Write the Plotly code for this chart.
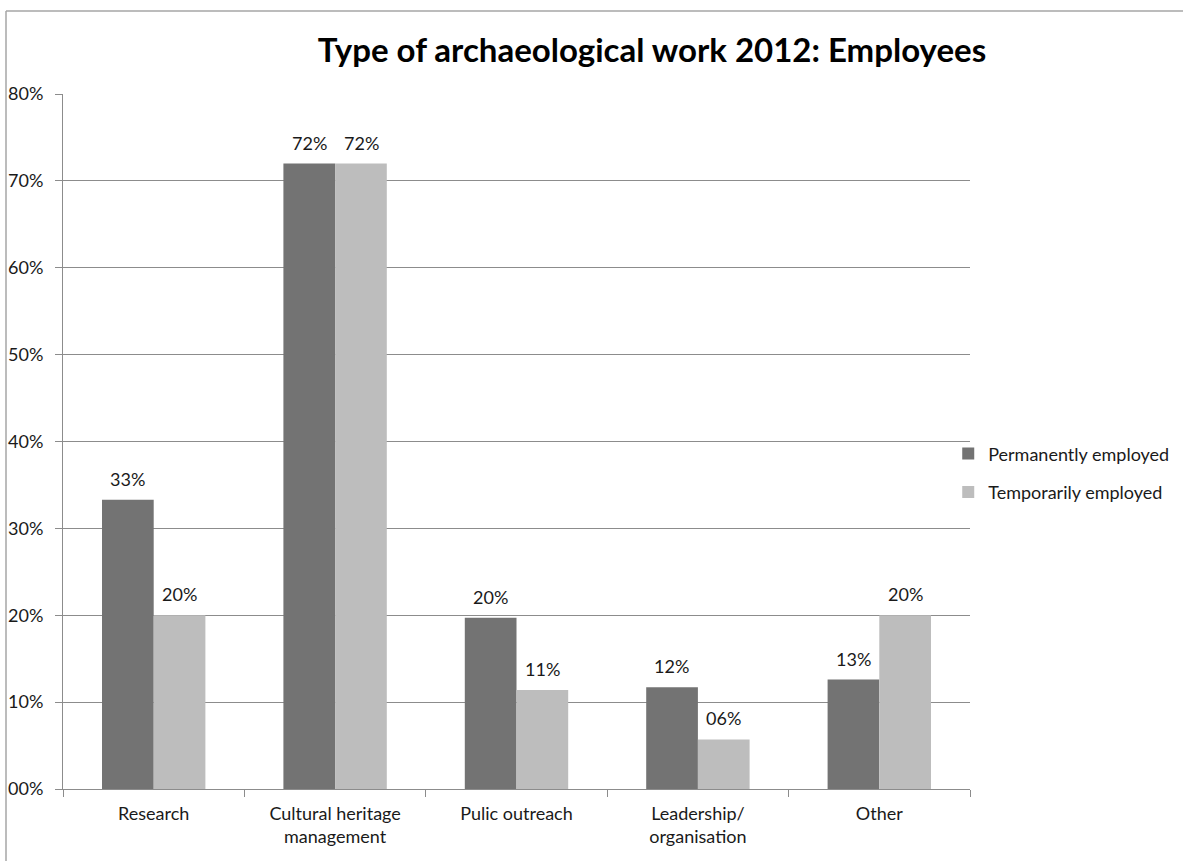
import plotly.graph_objects as go

# Survey results: share of employees doing each type of archaeological work
categories = ["Research", "Cultural heritage<br>management", "Pulic outreach",
              "Leadership/<br>organisation", "Other"]
permanent = [33.3, 72.0, 19.7, 11.7, 12.6]
temporary = [20.0, 72.0, 11.4, 5.7, 20.0]
series_names = ["Permanently employed", "Temporarily employed"]
tick_values = [0, 10, 20, 30, 40, 50, 60, 70, 80]
tick_labels = ["00%", "10%", "20%", "30%", "40%", "50%", "60%", "70%", "80%"]

DARK = "#737373"
LIGHT = "#bdbdbd"
GRID = "#8c8c8c"
FONT = "Lato"
TEXT = "#1a1a1a"

fig = go.Figure()
for name, vals, col, grp in [(series_names[0], permanent, DARK, "a"),
                             (series_names[1], temporary, LIGHT, "b")]:
    fig.add_trace(go.Bar(
        x=categories, y=vals, name=name, legendgroup=grp,
        marker=dict(color=col, line=dict(width=0)),
    ))

# Value labels above each bar
for vals, shift in [(permanent, -26), (temporary, 26)]:
    for cat, v in zip(categories, vals):
        fig.add_annotation(x=cat, y=v, text=f"{v:02.0f}%", showarrow=False,
                           xshift=shift, yshift=8, yanchor="bottom",
                           font=dict(family=FONT, size=18, color=TEXT))

fig.update_layout(
    width=1183, height=861,
    margin=dict(l=63, r=213, t=94, b=72, autoexpand=False),
    plot_bgcolor="white", paper_bgcolor="white",
    barmode="group", bargap=0.43, bargroupgap=0,
    font=dict(family=FONT, size=18, color=TEXT),
    title=dict(text="<b>Type of archaeological work 2012: Employees</b>",
               x=652 / 1183, xanchor="center", y=1 - 50 / 861, yanchor="middle",
               font=dict(family=FONT, size=33, color="black")),
    legend=dict(x=0.976, xanchor="left", y=0.455, yanchor="middle",
                font=dict(family=FONT, size=18, color=TEXT),
                tracegroupgap=12, bgcolor="rgba(0,0,0,0)"),
    showlegend=True,
)

fig.update_xaxes(
    automargin=False,
    showline=True, linecolor=GRID, linewidth=1,
    ticks="outside", tickson="boundaries", ticklen=7, tickcolor=GRID,
    ticklabelstandoff=8,
    tickfont=dict(family=FONT, size=18, color=TEXT),
    showgrid=False,
)
fig.update_yaxes(
    automargin=False,
    range=[0, 80], tickvals=tick_values, ticktext=tick_labels,
    showline=True, linecolor=GRID, linewidth=1,
    ticks="outside", ticklen=7, tickcolor=GRID, ticklabelstandoff=8,
    showgrid=True, gridcolor=GRID, gridwidth=1, zeroline=False,
    tickfont=dict(family=FONT, size=18, color=TEXT),
)

# Outer frame of the chart area (left and top edges)
fig.add_shape(type="line", xref="paper", yref="paper",
              x0=(6 - 63) / 907, x1=(6 - 63) / 907, y0=-0.2, y1=(789 - 11) / 695,
              line=dict(color="#a6a6a6", width=1.5))
fig.add_shape(type="line", xref="paper", yref="paper",
              x0=(6 - 63) / 907, x1=(1190 - 63) / 907, y0=(789 - 11) / 695, y1=(789 - 11) / 695,
              line=dict(color="#a6a6a6", width=1.5))

fig.write_html("out.html")
